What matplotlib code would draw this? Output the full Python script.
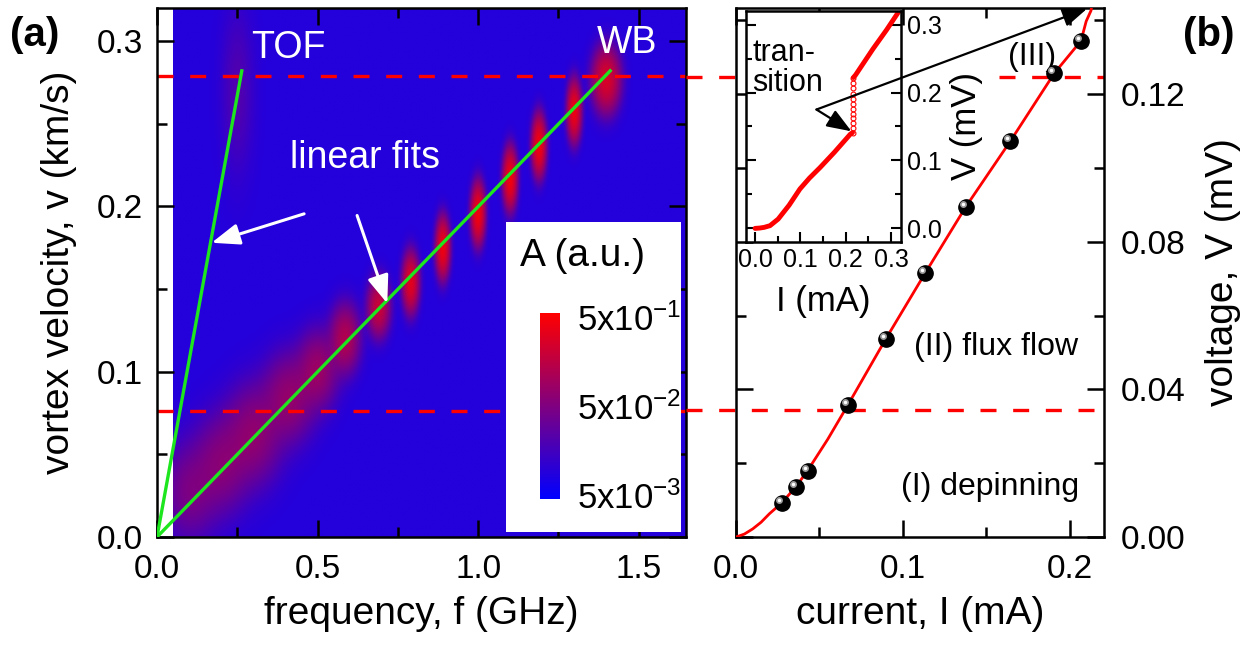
import numpy as np
import matplotlib
matplotlib.use('Agg')
import matplotlib.pyplot as plt
from matplotlib.colors import LinearSegmentedColormap, LogNorm
from matplotlib.patches import Rectangle, FancyArrowPatch
from matplotlib.ticker import MultipleLocator, FormatStrFormatter
from matplotlib.transforms import offset_copy

plt.rcParams['font.family'] = 'Liberation Sans'
plt.rcParams['mathtext.fontset'] = 'custom'
plt.rcParams['mathtext.rm'] = 'Liberation Sans'
plt.rcParams['mathtext.it'] = 'Liberation Sans:italic'
plt.rcParams['axes.linewidth'] = 1.8

# ---- panel (a): spectral peaks (f in GHz, v in km/s, amplitude a.u.)
peak_f = [0.10, 0.20, 0.30, 0.41, 0.50, 0.585, 0.69, 0.79, 0.89, 1.00, 1.10, 1.19, 1.30, 1.40, 0.25]
peak_v = [0.027, 0.044, 0.062, 0.084, 0.101, 0.120, 0.139, 0.154, 0.175, 0.196, 0.217, 0.237, 0.258, 0.277, 0.27]
peak_a = [0.035, 0.045, 0.055, 0.06, 0.07, 0.11, 0.18, 0.30, 0.38, 0.42, 0.42, 0.42, 0.38, 0.25, 0.012]
peak_sf = [0.05, 0.05, 0.05, 0.045, 0.035, 0.025, 0.018, 0.013, 0.011, 0.011, 0.011, 0.011, 0.011, 0.022, 0.03]
peak_sv = [0.017, 0.017, 0.017, 0.015, 0.013, 0.011, 0.009, 0.009, 0.009, 0.009, 0.009, 0.009, 0.009, 0.010, 0.03]
background = 0.009

# linear fits through the origin
tof_f = [0.0, 0.264]
tof_v = [0.0, 0.282]
wb_f = [0.0, 1.411]
wb_v = [0.0, 0.282]

# dashed guide levels
v_marks = [0.076, 0.279]      # km/s
V_marks = [0.0343, 0.1246]    # mV

# ---- panel (b): I-V curve
iv_I = [0.0, 0.005, 0.010, 0.015, 0.020, 0.0273, 0.0357, 0.0429, 0.055, 0.0671, 0.0897,
        0.1134, 0.1378, 0.1644, 0.1909, 0.2068, 0.2099, 0.2128, 0.2140]
iv_V = [0.0, 0.0008, 0.0022, 0.0040, 0.0063, 0.0092, 0.0135, 0.0180, 0.0265, 0.0358, 0.0536,
        0.0715, 0.0895, 0.1072, 0.1257, 0.1344, 0.1397, 0.1426, 0.1460]
pts_I = [0.0273, 0.0357, 0.0429, 0.0671, 0.0897, 0.1134, 0.1378, 0.1644, 0.1909, 0.2068]
pts_V = [0.0092, 0.0135, 0.0180, 0.0358, 0.0536, 0.0715, 0.0895, 0.1072, 0.1257, 0.1344]

# inset: full I-V with the transition
ins_I = [0.0, 0.010, 0.020, 0.033, 0.051, 0.075, 0.099, 0.120, 0.1435, 0.175, 0.210, 0.215]
ins_V = [0.0, 0.0005, 0.0015, 0.004, 0.0137, 0.034, 0.058, 0.074, 0.0896, 0.112, 0.1385, 0.141]
jump_I = [0.216, 0.216, 0.216, 0.216, 0.216, 0.216, 0.216, 0.216, 0.216, 0.216, 0.216, 0.216]
jump_V = [0.141, 0.148, 0.155, 0.162, 0.169, 0.176, 0.183, 0.190, 0.198, 0.206, 0.214, 0.222]
up_I = [0.217, 0.222, 0.232, 0.260, 0.290, 0.325]
up_V = [0.222, 0.226, 0.236, 0.264, 0.292, 0.327]

fig = plt.figure(figsize=(12.58, 6.47), dpi=100)

# ================= panel (a)
ax_a = fig.add_axes([0.1248, 0.170, 0.4205, 0.8176])
cmap = LinearSegmentedColormap.from_list('br', [(0, 0, 1), (1, 0, 0)])
norm = LogNorm(4.5e-3, 0.55)

f_grid = np.linspace(0.05, 1.647, 500)
v_grid = np.linspace(0.0, 0.32, 400)
F, Vg = np.meshgrid(f_grid, v_grid)
A = np.full(F.shape, background)
for f0, v0, a, sf, sv in zip(peak_f, peak_v, peak_a, peak_sf, peak_sv):
    A += a * np.exp(-0.5 * ((F - f0) / sf) ** 2 - 0.5 * ((Vg - v0) / sv) ** 2)
im = ax_a.imshow(A, origin='lower', extent=[0.05, 1.647, 0, 0.32], aspect='auto',
                 cmap=cmap, norm=norm, interpolation='bilinear', zorder=0)

for v in v_marks:
    ax_a.axhline(v, color='#ff0000', lw=2.4, dashes=(4.8, 5.0), zorder=2)
ax_a.plot(tof_f, tof_v, color='#1ee61e', lw=2.4, zorder=3)
ax_a.plot(wb_f, wb_v, color='#1ee61e', lw=2.4, zorder=3)

ax_a.set_xlim(0, 1.647)
ax_a.set_ylim(0, 0.32)
ax_a.xaxis.set_major_locator(MultipleLocator(0.5))
ax_a.xaxis.set_minor_locator(MultipleLocator(0.25))
ax_a.yaxis.set_major_locator(MultipleLocator(0.1))
ax_a.yaxis.set_minor_locator(MultipleLocator(0.05))
ax_a.xaxis.set_major_formatter(FormatStrFormatter('%.1f'))
ax_a.yaxis.set_major_formatter(FormatStrFormatter('%.1f'))
ax_a.tick_params(which='both', direction='in', top=True, right=True, width=1.8, labelsize=24)
ax_a.tick_params(which='major', length=12)
ax_a.tick_params(which='minor', length=7)
ax_a.tick_params(axis='x', pad=12)
ax_a.tick_params(axis='y', pad=10)
ax_a.set_xlabel('frequency, f (GHz)', fontsize=28, labelpad=8)
ax_a.set_ylabel('vortex velocity, v (km/s)', fontsize=28, labelpad=14)

txt = dict(color='white', fontsize=27, ha='center', va='center', zorder=5)
ax_a.text(0.41, 0.296, 'TOF', **txt)
ax_a.text(1.4625, 0.299, 'WB', **txt)
ax_a.text(0.649, 0.229, 'linear fits', **txt)
wprops = dict(arrowstyle='-|>,head_length=1.0,head_width=0.38', color='white', lw=2.2,
              mutation_scale=17, shrinkA=0, shrinkB=0, zorder=5)
ax_a.add_patch(FancyArrowPatch((0.458, 0.1955), (0.170, 0.178), **wprops))
ax_a.add_patch(FancyArrowPatch((0.623, 0.1945), (0.717, 0.1413), **wprops))

ax_a.add_patch(Rectangle((0.66, 0.009), 0.33, 0.587, transform=ax_a.transAxes,
                         facecolor='white', edgecolor='none', zorder=4))
ax_a.text(1.325, 0.170, 'A (a.u.)', fontsize=28, ha='center', va='center', zorder=5)

cax = fig.add_axes([0.4293, 0.2287, 0.0159, 0.2875])
cb = fig.colorbar(im, cax=cax, ticks=[5e-3, 5e-2, 5e-1])
cb.outline.set_visible(False)
cax.minorticks_off()
cb.set_ticklabels(['5x10$^{-3}$', '5x10$^{-2}$', '5x10$^{-1}$'])
cax.tick_params(length=0, labelsize=25, pad=12)

# ================= panel (b)
ax_b = fig.add_axes([0.5851, 0.170, 0.2925, 0.8176])
ax_b.plot(iv_I, iv_V, color='#ff0000', lw=2.0, zorder=3)
ax_b.plot(pts_I, pts_V, 'o', color='black', ms=11, zorder=4)
hl = offset_copy(ax_b.transData, fig=fig, x=-3, y=3, units='dots')
ax_b.plot(pts_I, pts_V, 'o', color='#9a9a9a', ms=5, mew=0, transform=hl, zorder=5)
ax_b.plot(pts_I, pts_V, 'o', color='white', ms=2.5, mew=0, transform=hl, zorder=6)

ylev = ax_b.get_yaxis_transform()
dash = dict(color='#ff0000', lw=2.4, dashes=(4.8, 5.0), clip_on=False, zorder=2)
ax_b.plot([-0.1355, 1.0], [V_marks[0], V_marks[0]], transform=ylev, **dash)
ax_b.plot([-0.1355, 0.0], [V_marks[1], V_marks[1]], transform=ylev, **dash)
ax_b.plot([0.715, 1.0], [V_marks[1], V_marks[1]], transform=ylev, **dash)

ax_b.set_xlim(0, 0.2206)
ax_b.set_ylim(0, 0.1433)
ax_b.xaxis.set_major_locator(MultipleLocator(0.1))
ax_b.xaxis.set_minor_locator(MultipleLocator(0.05))
ax_b.yaxis.set_major_locator(MultipleLocator(0.04))
ax_b.yaxis.set_minor_locator(MultipleLocator(0.02))
ax_b.xaxis.set_major_formatter(FormatStrFormatter('%.1f'))
ax_b.yaxis.set_major_formatter(FormatStrFormatter('%.2f'))
ax_b.yaxis.set_label_position('right')
ax_b.tick_params(which='both', direction='in', top=True, left=True, right=True,
                 labelleft=False, labelright=True, width=1.8, labelsize=24)
ax_b.tick_params(which='major', length=12)
ax_b.tick_params(which='minor', length=7)
ax_b.tick_params(axis='x', pad=12)
ax_b.tick_params(axis='y', pad=12)
ax_b.set_xlabel('current, I (mA)', fontsize=28, labelpad=8)
ax_b.set_ylabel('voltage, V (mV)', fontsize=28, labelpad=14)

ax_b.text(0.156, 0.0514, '(II) flux flow', fontsize=23, ha='center', va='center')
ax_b.text(0.152, 0.0136, '(I) depinning', fontsize=23, ha='center', va='center')
ax_b.text(0.1775, 0.130, '(III)', fontsize=23, ha='center', va='center')

# ---- inset
ax_in = fig.add_axes([0.5930, 0.626, 0.1232, 0.357])
ax_in.plot(ins_I, ins_V, color='#ff0000', lw=3.5, solid_capstyle='round')
ax_in.plot(jump_I, jump_V, 'o', ms=3.5, mfc='none', mec='#ff0000', mew=0.8)
ax_in.plot(up_I, up_V, color='#ff0000', lw=3.5, solid_capstyle='round')
ax_in.set_xlim(-0.02, 0.322)
ax_in.set_ylim(-0.02, 0.32)
ax_in.xaxis.set_major_locator(MultipleLocator(0.1))
ax_in.xaxis.set_minor_locator(MultipleLocator(0.05))
ax_in.yaxis.set_major_locator(MultipleLocator(0.1))
ax_in.yaxis.set_minor_locator(MultipleLocator(0.05))
ax_in.xaxis.set_major_formatter(FormatStrFormatter('%.1f'))
ax_in.yaxis.set_major_formatter(FormatStrFormatter('%.1f'))
ax_in.yaxis.set_label_position('right')
ax_in.tick_params(which='both', direction='in', left=True, right=True, labelleft=False,
                  labelright=True, width=1.5, labelsize=18, pad=4)
ax_in.tick_params(which='major', length=7)
ax_in.tick_params(which='minor', length=4)
ax_in.set_xlabel('I (mA)', fontsize=25, labelpad=10)
ax_in.set_ylabel('V (mV)', fontsize=25, labelpad=6)
ax_in.text(0.04, 0.885, 'tran-\nsition', transform=ax_in.transAxes, fontsize=22,
           ha='left', va='top', linespacing=1.0)

# black arrows linking inset transition to the main curve
bprops = dict(arrowstyle='-|>,head_length=1.0,head_width=0.38', color='black', lw=1.6,
              mutation_scale=15, shrinkA=0, shrinkB=0, transform=ax_b.transData, zorder=10)
fig.add_artist(FancyArrowPatch((0.0482, 0.1158), (0.2104, 0.1431), **bprops))
fig.add_artist(FancyArrowPatch((0.0482, 0.1158), (0.0692, 0.1099), **bprops))

fig.text(0.008, 0.975, '(a)', fontsize=29, weight='bold', va='top', ha='left')
fig.text(0.940, 0.975, '(b)', fontsize=29, weight='bold', va='top', ha='left')

fig.savefig('out.png', dpi=100)
